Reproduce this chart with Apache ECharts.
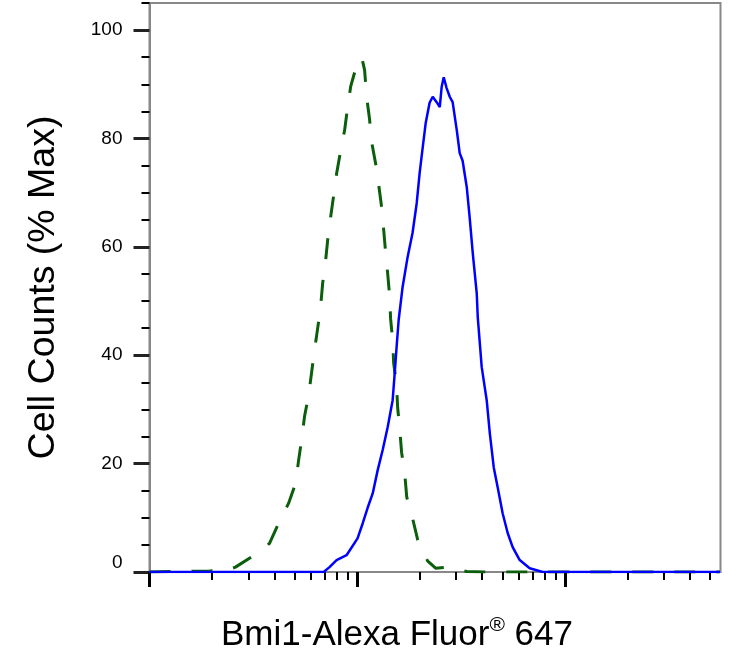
<!DOCTYPE html>
<html>
<head>
<meta charset="utf-8">
<script src="https://cdn.jsdelivr.net/npm/echarts@6/dist/echarts.min.js"></script>
<style>
  html, body { margin: 0; padding: 0; background: #fff; }
  #chart { width: 751px; height: 665px; }
</style>
</head>
<body>
<div id="chart"></div>
<script>
  // x values are log10 of fluorescence (decades from the left edge), y is % of max
  var isotypeLogFl = [0.000, 0.290, 0.370, 0.414, 0.496, 0.540, 0.578, 0.622, 0.670, 0.704, 0.718, 0.733,
    0.747, 0.766, 0.781, 0.795, 0.810, 0.824, 0.834, 0.848, 0.858, 0.872, 0.887, 0.901, 0.920, 0.940,
    0.954, 0.969, 0.993, 1.022, 1.036, 1.046, 1.060, 1.070, 1.089, 1.104, 1.118, 1.128, 1.137, 1.147,
    1.157, 1.161, 1.171, 1.176, 1.190, 1.195, 1.205, 1.214, 1.229, 1.239, 1.267, 1.292, 1.316, 1.340,
    1.378, 1.431, 1.480, 1.528, 1.614, 2.747];
  var isotypeCounts = [0, 0.2, 0.3, 0.9, 2.9, 4.0, 5.3, 9.0, 12.7, 16.4, 20.6, 24.5,
    28.8, 32.5, 36.9, 41.0, 45.0, 48.9, 53.3, 57.4, 61.2, 65.4, 69.5, 73.5, 77.6, 81.6,
    85.7, 89.6, 92.9, 95.0, 92.6, 87.6, 83.5, 79.3, 75.4, 71.4, 67.3, 63.1, 59.0, 55.1,
    50.7, 46.8, 42.8, 38.5, 34.5, 30.4, 26.5, 22.1, 18.2, 13.8, 9.9, 5.9, 3.8, 2.0,
    0.7, 0.9, 0.5, 0.1, 0, 0];

  var bmi1LogFl = [0.000, 0.839, 0.867, 0.901, 0.949, 1.002, 1.027, 1.051, 1.075, 1.099, 1.123, 1.147,
    1.171, 1.181, 1.190, 1.200, 1.219, 1.243, 1.267, 1.287, 1.301, 1.316, 1.330, 1.349, 1.364, 1.383,
    1.398, 1.407, 1.417, 1.431, 1.446, 1.460, 1.480, 1.494, 1.508, 1.528, 1.542, 1.557, 1.576, 1.581,
    1.600, 1.624, 1.639, 1.658, 1.677, 1.701, 1.725, 1.749, 1.783, 1.831, 1.894, 2.747];
  var bmi1Counts = [0, 0, 0.9, 2.2, 3.1, 6.2, 9.0, 11.9, 14.5, 18.8, 22.5, 26.7,
    31.7, 36.7, 41.5, 46.5, 52.6, 58.1, 62.6, 68.1, 73.6, 78.4, 82.8, 86.6, 87.7, 86.7,
    85.8, 89.5, 91.3, 89.3, 87.7, 86.7, 81.5, 77.3, 75.9, 71.0, 65.4, 58.8, 51.4, 47.0,
    37.8, 31.7, 25.6, 19.3, 15.6, 10.8, 7.2, 4.6, 2.2, 0.7, 0, 0];

  // tick positions
  var xMajorTicks = [0, 1, 2];
  var xMinorTicks = [];
  for (var d = 0; d < 3; d++) {
    for (var k = 2; k <= 9; k++) {
      var t = d + Math.log10(k);
      if (t <= 2.75) xMinorTicks.push(t);
    }
  }
  var yMajorTicks = [0, 20, 40, 60, 80, 100];
  var yMinorTicks = [5, 10, 15, 25, 30, 35, 45, 50, 55, 65, 70, 75, 85, 90, 95, 105];

  function pairs(xs, ys) {
    var out = [];
    for (var i = 0; i < xs.length; i++) out.push([xs[i], ys[i]]);
    return out;
  }

  var font = "'Liberation Sans', Arial, sans-serif";
  var myChart = echarts.init(document.getElementById('chart'));
  var option = {
    animation: false,
    backgroundColor: '#fff',
    grid: {
      left: 149.5, right: 30.5, top: 3, bottom: 93,
      show: true, borderColor: '#888', borderWidth: 2
    },
    xAxis: [{
      type: 'value', min: 0, max: 2.75, position: 'bottom',
      axisLine: { onZero: false, lineStyle: { color: '#888', width: 2 } },
      axisTick: { customValues: xMajorTicks, length: 15, lineStyle: { color: '#000', width: 3 } },
      axisLabel: { show: false },
      splitLine: { show: false },
      name: 'Bmi1-Alexa Fluor{sup|®} 647',
      nameLocation: 'middle',
      nameGap: 43,
      nameTextStyle: {
        fontFamily: font, fontSize: 35, color: '#000', lineHeight: 40,
        padding: [0, 76, 0, 0],
        rich: { sup: { fontFamily: font, fontSize: 21, color: '#000', verticalAlign: 'top', lineHeight: 22 } }
      }
    }, {
      type: 'value', min: 0, max: 2.75, position: 'bottom',
      axisLine: { show: false, onZero: false },
      axisTick: { customValues: xMinorTicks, length: 8, lineStyle: { color: '#000', width: 2 } },
      axisLabel: { show: false },
      splitLine: { show: false }
    }],
    yAxis: [{
      type: 'value', min: 0, max: 105, position: 'left',
      axisLine: { onZero: false, lineStyle: { color: '#888', width: 2 } },
      axisTick: { customValues: yMajorTicks, length: 16, lineStyle: { color: '#222', width: 3 } },
      axisLabel: {
        customValues: yMajorTicks, margin: 27, fontFamily: font, fontSize: 19, color: '#000',
        formatter: function (v) { return v === 0 ? '{z|0}' : String(v); },
        rich: { z: { fontFamily: font, fontSize: 19, color: '#000', padding: [0, 0, 18, 0] } }
      },
      splitLine: { show: false },
      name: 'Cell Counts (% Max)',
      nameLocation: 'middle',
      nameGap: 87,
      nameTextStyle: { fontFamily: font, fontSize: 37.5, color: '#000' }
    }, {
      type: 'value', min: 0, max: 105, position: 'left',
      axisLine: { show: false, onZero: false },
      axisTick: { customValues: yMinorTicks, length: 8, lineStyle: { color: '#000', width: 2 } },
      axisLabel: { show: false },
      splitLine: { show: false }
    }],
    series: [{
      name: 'Isotype',
      type: 'line',
      xAxisIndex: 0, yAxisIndex: 0,
      showSymbol: false,
      lineStyle: { color: '#0b5e0b', width: 3, type: [21, 21] },
      data: pairs(isotypeLogFl, isotypeCounts)
    }, {
      name: 'Bmi1',
      type: 'line',
      xAxisIndex: 0, yAxisIndex: 0,
      showSymbol: false,
      lineStyle: { color: '#0000ff', width: 2.5 },
      data: pairs(bmi1LogFl, bmi1Counts)
    }]
  };
  myChart.setOption(option, true);
</script>
</body>
</html>
